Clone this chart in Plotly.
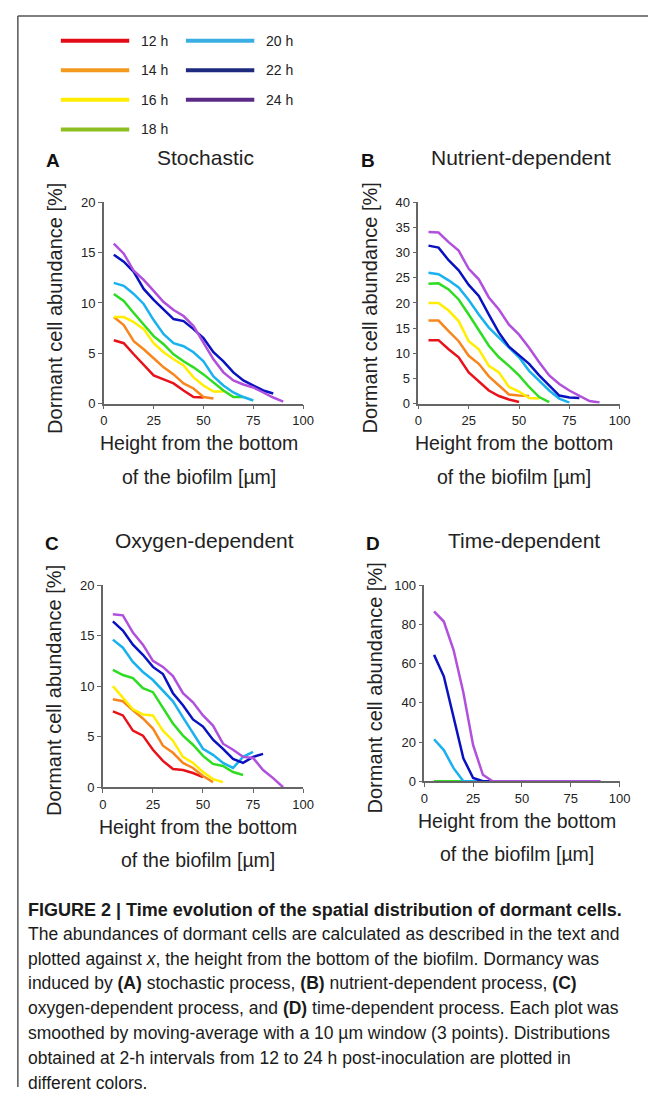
import plotly.graph_objects as go

# page is 667x1103; the browser's default 8px body margin surrounds the figure
PAGE_W, PAGE_H, M = 667, 1103, 8
W, H = PAGE_W - 2 * M, PAGE_H - 2 * M

hours = ["12 h", "14 h", "16 h", "18 h", "20 h", "22 h", "24 h"]
plot_colors = ["#E8121A", "#F7861F", "#FFEE00", "#2EDD22", "#1AB2EE", "#0A12C0", "#B050DD"]
legend_colors = ["#E30B17", "#F39A1E", "#FFED00", "#8CBE22", "#3AAEE3", "#1D2A7D", "#5B2A86"]

# x positions (µm) at 5-µm spacing
x_all = [5, 10, 15, 20, 25, 30, 35, 40, 45, 50, 55, 60, 65, 70, 75, 80, 85, 90]

# Panel A: Stochastic
A_12 = [6.3, 6.0, 4.9, 3.8, 2.8, 2.4, 2.0, 1.3, 0.65, 0.6]
A_14 = [8.6, 7.8, 6.2, 5.4, 4.5, 3.6, 2.9, 2.0, 1.5, 0.65, 0.5]
A_16 = [8.6, 8.6, 8.1, 7.4, 6.0, 5.1, 4.4, 3.8, 2.6, 1.8, 1.2, 1.2]
A_18 = [10.9, 10.2, 9.0, 7.8, 6.7, 5.9, 4.9, 4.2, 3.6, 2.9, 2.1, 1.3, 0.65, 0.65]
A_20 = [12.0, 11.7, 10.9, 9.9, 8.3, 6.9, 6.0, 5.7, 5.1, 4.2, 2.7, 1.8, 1.1, 0.65, 0.3]
A_22 = [14.8, 14.1, 13.1, 11.4, 10.3, 9.3, 8.4, 8.2, 7.4, 6.5, 5.1, 4.2, 3.1, 2.3, 1.8, 1.3, 1.0]
A_24 = [15.9, 14.9, 13.2, 12.3, 11.2, 10.1, 9.3, 8.7, 7.7, 6.0, 4.4, 3.1, 2.3, 1.9, 1.6, 1.1, 0.6, 0.2]

# Panel B: Nutrient-dependent
B_12 = [12.6, 12.6, 10.8, 9.2, 6.2, 4.3, 2.6, 1.5, 0.8, 0.3]
B_14 = [16.5, 16.5, 14.4, 12.4, 9.5, 7.9, 5.4, 3.6, 1.8, 1.6, 1.5]
B_16 = [20.0, 20.0, 18.5, 16.4, 12.4, 10.8, 7.5, 6.2, 3.3, 2.4, 1.1, 1.0]
B_18 = [23.8, 23.9, 22.7, 20.7, 17.7, 14.7, 11.5, 9.2, 7.5, 5.6, 3.3, 1.3, 0.3]
B_20 = [26.0, 25.7, 24.5, 23.1, 20.6, 17.7, 15.1, 13.1, 11.1, 9.2, 6.5, 4.6, 2.6, 1.0, 0.2]
B_22 = [31.4, 31.0, 28.5, 26.5, 23.6, 21.4, 17.7, 14.1, 11.3, 9.5, 7.9, 5.6, 3.6, 1.6, 1.2, 1.1]
B_24 = [34.1, 34.0, 32.1, 30.4, 26.8, 24.7, 21.1, 18.7, 15.7, 13.7, 11.1, 8.2, 5.6, 3.9, 2.6, 1.5, 0.5, 0.2]

# Panel C: Oxygen-dependent
C_12 = [7.5, 7.1, 5.6, 5.1, 3.7, 2.6, 1.8, 1.7, 1.4, 1.0]
C_14 = [8.7, 8.5, 7.6, 6.8, 5.8, 4.1, 3.4, 2.4, 1.9, 1.1, 0.5]
C_16 = [10.0, 8.8, 7.7, 7.2, 7.1, 5.6, 4.6, 3.0, 2.4, 1.5, 0.8, 0.5]
C_18 = [11.6, 11.1, 10.8, 9.8, 9.4, 7.9, 6.3, 5.1, 4.2, 3.1, 2.3, 2.1, 1.5, 1.2]
C_20 = [14.6, 13.8, 12.4, 11.4, 10.6, 9.5, 8.5, 6.9, 5.3, 3.8, 3.2, 2.4, 1.9, 3.0, 3.5]
C_22 = [16.4, 15.5, 14.1, 13.1, 11.9, 11.2, 9.3, 8.1, 6.7, 6.0, 4.7, 3.8, 2.8, 2.4, 3.0, 3.3]
C_24 = [17.1, 17.0, 15.3, 14.1, 12.5, 11.9, 11.0, 9.3, 8.4, 7.1, 6.1, 4.3, 3.7, 3.0, 2.9, 1.7, 0.9, 0.0]

# Panel D: Time-dependent
D_12 = [0] * 18
D_14 = [0] * 18
D_16 = [0] * 18
D_18 = [0] * 18
D_20 = [21.4, 15.9, 6.7, 0] + [0] * 14
D_22 = [64.4, 53.5, 32.6, 11.7, 1.7, 0] + [0] * 12
D_24 = [86.6, 81.4, 66.9, 45.2, 18.4, 3.3, 0] + [0] * 11

panels = [
    dict(series=[A_12, A_14, A_16, A_18, A_20, A_22, A_24], ymax=20, dtick=5,
         px_x=(102, 306), px_y=(198, 402), title="Stochastic", letter="A"),
    dict(series=[B_12, B_14, B_16, B_18, B_20, B_22, B_24], ymax=40, dtick=5,
         px_x=(424, 630), px_y=(198, 402), title="Nutrient-dependent", letter="B"),
    dict(series=[C_12, C_14, C_16, C_18, C_20, C_22, C_24], ymax=20, dtick=5,
         px_x=(101, 306), px_y=(586, 791), title="Oxygen-dependent", letter="C"),
    dict(series=[D_12, D_14, D_16, D_18, D_20, D_22, D_24], ymax=100, dtick=20,
         px_x=(430, 630), px_y=(586, 785), title="Time-dependent", letter="D"),
]

FONT = "Liberation Sans, Arial, sans-serif"
fig = go.Figure()
annotations = []
shapes = []


def px(xp):
    return (xp - M) / W


def py(yp):
    return 1 - (yp - M) / H


for i, p in enumerate(panels):
    n = "" if i == 0 else str(i + 1)
    for j, s in enumerate(p["series"]):
        fig.add_trace(go.Scatter(
            x=x_all[:len(s)], y=s, mode="lines",
            line=dict(color=plot_colors[j], width=2.5),
            xaxis="x" + n, yaxis="y" + n, showlegend=False, name=hours[j],
        ))
    axstyle = dict(showgrid=False, zeroline=False, showline=True, linecolor="#666666",
                   linewidth=1.5, ticks="outside", ticklen=4, tickwidth=1.2,
                   tickcolor="#666666", tickfont=dict(family=FONT, size=13, color="#222222"))
    fig.update_layout(**{
        "xaxis" + n: dict(domain=[px(p["px_x"][0]), px(p["px_x"][1])], range=[0, 100],
                          tick0=0, dtick=25, anchor="y" + n, **axstyle),
        "yaxis" + n: dict(domain=[py(p["px_y"][1]), py(p["px_y"][0])], range=[0, p["ymax"]],
                          tick0=0, dtick=p["dtick"], anchor="x" + n, **axstyle),
    })
    left = p["px_x"][0]
    cx = (p["px_x"][0] + p["px_x"][1]) / 2
    top, bot = p["px_y"]
    annotations.append(dict(text="<b>" + p["letter"] + "</b>", x=px(left - 52), y=py(top - 42),
                            xref="paper", yref="paper", showarrow=False, xanchor="center",
                            yanchor="middle", font=dict(family=FONT, size=19, color="#111111")))
    annotations.append(dict(text=p["title"], x=px(cx + 2), y=py(top - 45),
                            xref="paper", yref="paper", showarrow=False, xanchor="center",
                            yanchor="middle", font=dict(family=FONT, size=21, color="#222222")))
    annotations.append(dict(text="Dormant cell abundance [%]", x=px(left - 50), y=py((top + bot) / 2 + 5),
                            xref="paper", yref="paper", showarrow=False, xanchor="center",
                            yanchor="middle", textangle=-90,
                            font=dict(family=FONT, size=20, color="#222222")))
    annotations.append(dict(text="Height from the bottom", x=px(cx - 5), y=py(bot + 40),
                            xref="paper", yref="paper", showarrow=False, xanchor="center",
                            yanchor="middle", font=dict(family=FONT, size=19.5, color="#222222")))
    annotations.append(dict(text="of the biofilm [µm]", x=px(cx - 5), y=py(bot + 74),
                            xref="paper", yref="paper", showarrow=False, xanchor="center",
                            yanchor="middle", font=dict(family=FONT, size=19.5, color="#222222")))

# custom legend
leg_rows = [34, 64, 94, 124]
leg_pos = [(0, 0), (0, 1), (0, 2), (0, 3), (1, 0), (1, 1), (1, 2)]
for j, (col, row) in enumerate(leg_pos):
    x0 = 58 if col == 0 else 186
    yv = leg_rows[row]
    shapes.append(dict(type="line", xref="paper", yref="paper", x0=px(x0), x1=px(x0 + 70),
                       y0=py(yv), y1=py(yv), line=dict(color=legend_colors[j], width=4)))
    annotations.append(dict(text=hours[j], x=px(x0 + 80), y=py(yv), xref="paper", yref="paper",
                            showarrow=False, xanchor="left", yanchor="middle",
                            font=dict(family=FONT, size=14, color="#222222")))

# frame
shapes.append(dict(type="line", xref="paper", yref="paper", x0=px(14), x1=1, y0=py(9), y1=py(9),
                   line=dict(color="#555555", width=1.5)))
shapes.append(dict(type="line", xref="paper", yref="paper", x0=px(14), x1=px(14), y0=py(9), y1=0,
                   line=dict(color="#555555", width=1.5)))

caption = [
    "<b>FIGURE 2 | Time evolution of the spatial distribution of dormant cells.</b>",
    "The abundances of dormant cells are calculated as described in the text and",
    "plotted against <i>x</i>, the height from the bottom of the biofilm. Dormancy was",
    "induced by <b>(A)</b> stochastic process, <b>(B)</b> nutrient-dependent process, <b>(C)</b>",
    "oxygen-dependent process, and <b>(D)</b> time-dependent process. Each plot was",
    "smoothed by moving-average with a 10 µm window (3 points). Distributions",
    "obtained at 2-h intervals from 12 to 24 h post-inoculation are plotted in",
    "different colors.",
]
cap_y = [916, 940, 965, 990, 1015, 1040, 1066, 1091]
cap_size = [18, 17.5, 17.5, 17.5, 17.5, 17.5, 17.5, 17.5]
for t, yv, fs in zip(caption, cap_y, cap_size):
    annotations.append(dict(text=t, x=px(22), y=py(yv), xref="paper", yref="paper", showarrow=False,
                            xanchor="left", yanchor="middle",
                            font=dict(family=FONT, size=fs, color="#1a1a1a")))

fig.update_layout(width=W, height=H, margin=dict(l=0, r=0, t=0, b=0),
                  paper_bgcolor="white", plot_bgcolor="white",
                  annotations=annotations, shapes=shapes, showlegend=False)
fig.write_html("out.html", config={"displayModeBar": False})
